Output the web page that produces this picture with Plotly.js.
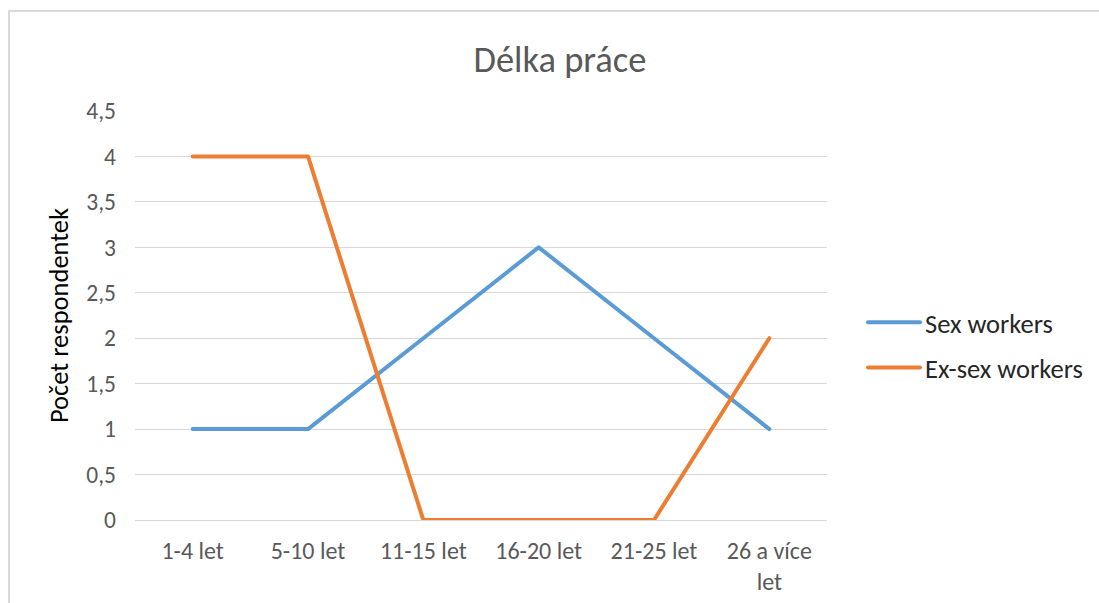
<!DOCTYPE html>
<html>
<head>
<meta charset="utf-8">
<script src="https://cdn.plot.ly/plotly-3.0.1.min.js"></script>
<style>
  html, body { margin: 0; padding: 0; background: #fff; overflow: hidden; }
  #frame { position: absolute; left: 8px; top: 10px; width: 1089px; height: 600px; border: 2px solid #d9d9d9; }
  #chart { width: 1089px; height: 600px; }
  .scatterlayer path.js-line, .legend path.js-line { stroke-linecap: round; stroke-linejoin: round; }
</style>
</head>
<body>
<div id="frame"><div id="chart"></div></div>
<script>
const categories = ["1-4 let", "5-10 let", "11-15 let", "16-20 let", "21-25 let", "26 a více<br>let"];
const sexWorkers = [1, 1, 2, 3, 2, 1];
const exSexWorkers = [4, 4, 0, 0, 0, 2];
const seriesNames = ["Sex workers", "Ex-sex workers"];
const yTicks = [0, 0.5, 1, 1.5, 2, 2.5, 3, 3.5, 4, 4.5];

const FONT = "Carlito, Lato, 'Open Sans', sans-serif";

const traces = [
  {
    x: categories, y: sexWorkers, name: seriesNames[0], type: "scatter", mode: "lines",
    line: { color: "#5B9BD5", width: 4 }, legendgroup: "a", hoverinfo: "skip"
  },
  {
    x: categories, y: exSexWorkers, name: seriesNames[1], type: "scatter", mode: "lines",
    line: { color: "#ED7D31", width: 4 }, legendgroup: "b", hoverinfo: "skip"
  }
];

const layout = {
  width: 1089, height: 600,
  margin: { l: 125, r: 271, t: 98.5, b: 91.5 },
  paper_bgcolor: "#fff", plot_bgcolor: "#fff",
  separators: ", ",
  font: { family: FONT, color: "#595959" },
  title: {
    text: "Délka práce", font: { family: FONT, size: 36.5, color: "#595959" },
    xref: "container", x: 0.505, xanchor: "center",
    yref: "container", y: 0.922, yanchor: "middle"
  },
  xaxis: {
    type: "category", range: [-0.5, 5.5], fixedrange: true,
    showgrid: false, zeroline: false, showline: true, linecolor: "#d9d9d9", linewidth: 1,
    ticks: "", tickfont: { family: FONT, size: 24, color: "#595959" },
    ticklabelstandoff: 9
  },
  yaxis: {
    range: [0, 4.5], tickvals: yTicks, fixedrange: true,
    showgrid: true, gridcolor: "#d9d9d9", gridwidth: 1, zeroline: false,
    ticks: "", tickfont: { family: FONT, size: 23.5, color: "#595959" },
    ticklabelstandoff: 18,
    title: { text: "Počet respondentek", font: { family: FONT, size: 26.5, color: "#000" }, standoff: 10 }
  },
  showlegend: true,
  legend: {
    x: 1.0505, xanchor: "left", y: 0.428, yanchor: "middle",
    traceorder: "grouped", tracegroupgap: 8, itemwidth: 52,
    font: { family: FONT, size: 26.5, color: "#262626" },
    bgcolor: "rgba(0,0,0,0)", borderwidth: 0
  }
};

Plotly.newPlot("chart", traces, layout, { displayModeBar: false, staticPlot: true });
</script>
</body>
</html>
